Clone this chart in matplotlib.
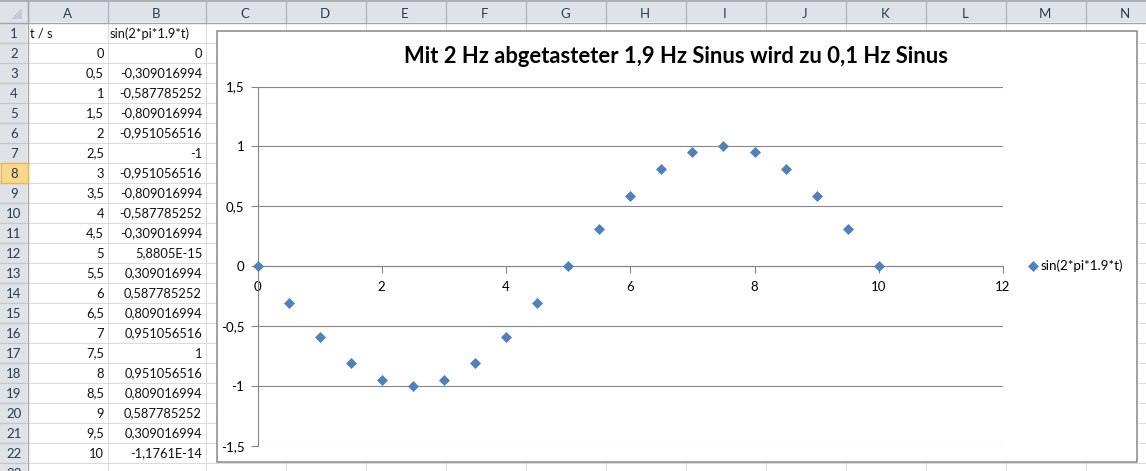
import matplotlib
matplotlib.use("Agg")
import matplotlib.pyplot as plt
from matplotlib.patches import Rectangle, Polygon

# ---------------- data ----------------
t_values = [0, 0.5, 1, 1.5, 2, 2.5, 3, 3.5, 4, 4.5, 5,
            5.5, 6, 6.5, 7, 7.5, 8, 8.5, 9, 9.5, 10]
sin_texts = ["0", "-0,309016994", "-0,587785252", "-0,809016994", "-0,951056516",
             "-1", "-0,951056516", "-0,809016994", "-0,587785252", "-0,309016994",
             "5,8805E-15", "0,309016994", "0,587785252", "0,809016994", "0,951056516",
             "1", "0,951056516", "0,809016994", "0,587785252", "0,309016994",
             "-1,1761E-14"]
sin_values = [float(s.replace(",", ".")) for s in sin_texts]
header_a = "t / s"
header_b = "sin(2*pi*1.9*t)"
series_name = "sin(2*pi*1.9*t)"
title = "Mit 2 Hz abgetasteter 1,9 Hz Sinus wird zu 0,1 Hz Sinus"
col_letters = list("ABCDEFGHIJKLMN")
x_ticks = [0, 2, 4, 6, 8, 10, 12]
y_ticks = [-1.5, -1, -0.5, 0, 0.5, 1, 1.5]


def de_num(v):
    return ("%g" % v).replace(".", ",")


W, H = 1146, 471
FONT = "Lato"
CELL_FS = 9.3
HDR_FS = 9.5
fig = plt.figure(figsize=(W / 100, H / 100), dpi=100)
bg = fig.add_axes([0, 0, 1, 1])
bg.set_xlim(0, W)
bg.set_ylim(H, 0)
bg.axis("off")
bg.set_zorder(0)

# sheet geometry
row_hdr_w = 27
hdr_h = 22
row_h = 20
col_widths = [80, 98] + [80] * 12
col_edges = [row_hdr_w]
for w in col_widths:
    col_edges.append(col_edges[-1] + w)

hdr_fill = "#DFE3E8"
hdr_sep = "#AEB3B9"
grid_c = "#DADCDD"
txt_c = "#111111"
hdr_txt = "#2B3A4E"

bg.add_patch(Rectangle((0, 0), W, H, facecolor="white", edgecolor="none", zorder=0))

# cell gridlines
n_rows = 23
for r in range(1, n_rows + 1):
    y = hdr_h + r * row_h + 0.5
    bg.plot([row_hdr_w, W], [y, y], color=grid_c, lw=0.75, zorder=1)
for x in col_edges[1:]:
    bg.plot([x + 0.5, x + 0.5], [hdr_h, H], color=grid_c, lw=0.75, zorder=1)

# column header
bg.add_patch(Rectangle((0, 0), W, hdr_h, facecolor=hdr_fill, edgecolor="none", zorder=2))
bg.plot([0, W], [0.5, 0.5], color="#9FA5AC", lw=1.2, zorder=3)
bg.plot([0, W], [hdr_h + 0.5, hdr_h + 0.5], color="#9EA5AD", lw=1, zorder=3)
for x in col_edges:
    bg.plot([x + 0.5, x + 0.5], [1, hdr_h], color=hdr_sep, lw=0.9, zorder=3)
for i, letter in enumerate(col_letters):
    cx = (col_edges[i] + col_edges[i + 1]) / 2
    bg.text(cx, 17.5, letter, ha="center", va="baseline", fontsize=HDR_FS,
            family=FONT, color=hdr_txt, zorder=4)

# corner triangle
bg.add_patch(Polygon([[22, 8], [22, 19], [11, 19]], closed=True,
                     facecolor="#C5CBD3", edgecolor="none", zorder=4))

# row header
bg.add_patch(Rectangle((0, hdr_h), row_hdr_w, H - hdr_h, facecolor=hdr_fill,
                       edgecolor="none", zorder=2))
bg.plot([row_hdr_w + 0.5, row_hdr_w + 0.5], [0, H], color="#9EA5AD", lw=1, zorder=3)
for r in range(1, n_rows + 1):
    y = hdr_h + r * row_h + 0.5
    bg.plot([0, row_hdr_w], [y, y], color="#C3C8CF", lw=0.9, zorder=3)
sel_row = 8
bg.add_patch(Rectangle((0.5, hdr_h + (sel_row - 1) * row_h + 0.5), row_hdr_w, row_h,
                       facecolor="#F9D88C", edgecolor="#EDB54F", lw=0.9, zorder=3.5))
for r in range(1, n_rows + 1):
    base = hdr_h + r * row_h - 4.5
    bg.text(row_hdr_w / 2 + 0.5, base, str(r), ha="center", va="baseline",
            fontsize=HDR_FS, family=FONT, color=hdr_txt, zorder=4, clip_on=True)

# cell contents
bg.text(col_edges[0] + 2.5, hdr_h + row_h - 4.5, header_a, ha="left", va="baseline",
        fontsize=CELL_FS, family=FONT, color=txt_c, zorder=4)
bg.text(col_edges[1] + 2.5, hdr_h + row_h - 4.5, header_b, ha="left", va="baseline",
        fontsize=CELL_FS, family=FONT, color=txt_c, zorder=4)
for i, (tv, st) in enumerate(zip(t_values, sin_texts)):
    base = hdr_h + (i + 2) * row_h - 4.5
    bg.text(col_edges[1] - 3, base, de_num(tv), ha="right", va="baseline",
            fontsize=CELL_FS, family=FONT, color=txt_c, zorder=4)
    bg.text(col_edges[2] - 3, base, st, ha="right", va="baseline",
            fontsize=CELL_FS, family=FONT, color=txt_c, zorder=4)

# chart box
chart_l, chart_t, chart_r, chart_b = 216.5, 30.5, 1136.5, 461.5
bg.add_patch(Rectangle((chart_l, chart_t), chart_r - chart_l, chart_b - chart_t,
                       facecolor="white", edgecolor="#868686", lw=1.1, zorder=6))
bg.text(676, 63, title, ha="center", va="baseline", fontsize=15.8, fontweight="bold",
        family=FONT, color="black", zorder=7)

# plot area
pl, pr, pt, pb = 257.5, 1003, 86.5, 446
ax = fig.add_axes([pl / W, (H - pb) / H, (pr - pl) / W, (pb - pt) / H])
ax.set_zorder(2)
ax.patch.set_visible(False)
ax.set_xlim(0, 12)
ax.set_ylim(-1.5, 1.5)
gray = "#868686"
for yv in y_ticks:
    ax.axhline(yv, color=gray, lw=0.8, zorder=1)
ax.spines["top"].set_visible(False)
ax.spines["right"].set_visible(False)
ax.spines["left"].set_color(gray)
ax.spines["left"].set_linewidth(0.8)
ax.spines["bottom"].set_position(("data", 0))
ax.spines["bottom"].set_color(gray)
ax.spines["bottom"].set_linewidth(0.8)
ax.set_xticks(x_ticks)
ax.set_xticklabels([de_num(v) for v in x_ticks])
ax.set_yticks(y_ticks)
ax.set_yticklabels([de_num(v) for v in y_ticks])
ax.tick_params(axis="both", direction="out", length=5, width=0.8, color=gray,
               labelsize=9.5, labelcolor="black")
ax.tick_params(axis="y", pad=4.5)
ax.tick_params(axis="x", pad=5.5)
for lab in ax.get_xticklabels() + ax.get_yticklabels():
    lab.set_family(FONT)

blue = "#4F81BD"
ax.plot(t_values, sin_values, linestyle="none", marker="D", markersize=5.5,
        color=blue, markeredgecolor=blue, markeredgewidth=0.5, clip_on=False,
        zorder=5, label=series_name)

leg = ax.legend(loc="center left", bbox_to_anchor=(1029 / W, (H - 266) / H),
                bbox_transform=fig.transFigure, frameon=False, handlelength=0.55,
                handletextpad=0.3, borderpad=0, borderaxespad=0,
                prop={"family": FONT, "size": 9.6})
for txt in leg.get_texts():
    txt.set_color("black")

fig.savefig("out.png", dpi=100)
